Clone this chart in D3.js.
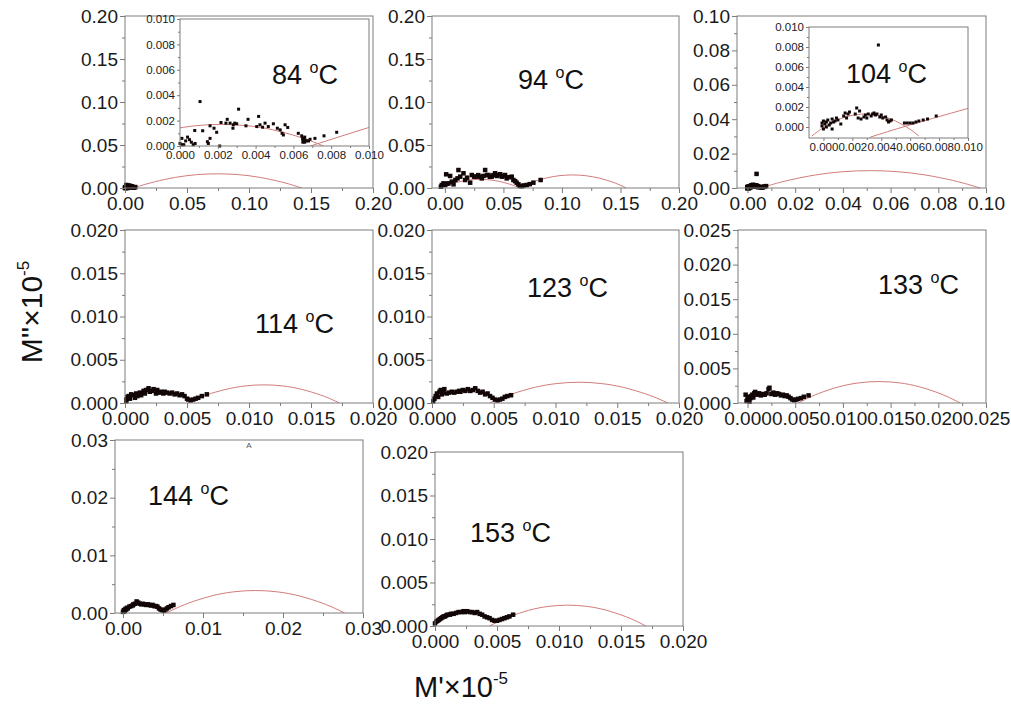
<!DOCTYPE html>
<html><head><meta charset="utf-8">
<script src="https://cdn.jsdelivr.net/npm/d3@7"></script>
<style>
html,body{margin:0;padding:0;background:#fff;}
svg{display:block;}
</style></head><body>
<svg id="c" width="1011" height="704"></svg>
<script>
// ---------- data (M', M'' ×10^-5) ----------
const temps = ["84","94","104","114","123","133","144","153"];

const d84 = [[0.0000,0.0002],[0.0001,0.0006],[0.0003,0.0004],[0.0004,0.0007],[0.0005,0.0005],[0.0006,0.0003],[0.0007,0.0001],[0.0001,0.0001],[0.0002,0.0001],[0.0008,0.0002],
[0.00078,0.00122],[0.0012,0.0012],[0.00106,0.0035],[0.00145,0.00034],[0.0015,0.0002],[0.00159,0.0006],[0.00159,0.00159],[0.0018,0.0014],[0.00194,0.00108],[0.0021,0.0000],
[0.00217,0.00185],[0.00243,0.0018],[0.0025,0.0021],[0.00265,0.0018],[0.0028,0.0014],[0.00282,0.00167],[0.0029,0.0018],[0.003,0.00175],[0.0031,0.0029],
[0.00349,0.00159],[0.0036,0.0021],[0.00406,0.00153],[0.00416,0.00233],[0.00423,0.00167],[0.00437,0.00148],[0.0045,0.0018],[0.00467,0.00153],[0.00494,0.00175],
[0.00515,0.0014],[0.0053,0.00127],[0.0054,0.001],[0.00547,0.00087],[0.00556,0.00167],[0.0057,0.00146],
[0.00626,0.001],[0.00644,0.0008],[0.00649,0.0006],[0.0065,0.0003],[0.0066,0.0005],[0.0066,0.0007],[0.0067,0.0004],[0.0065,0.0005],[0.0066,0.0003],[0.0068,0.0004],[0.00688,0.00053],[0.00714,0.0006],[0.00762,0.0008],[0.00829,0.00108]];

const d94 = [[-0.0034,0.0015],[-0.0026,0.0035],[-0.0012,0.0054],[0.0003,0.0035],[0.0011,0.0159],[0.0020,0.0050],[0.0031,0.0054],[0.0045,0.0140],[0.0059,0.0074],[0.0074,0.0043],[0.0090,0.0093],[0.0108,0.0112],[0.0116,0.0209],[0.0131,0.0132],[0.0159,0.0171],[0.0173,0.0093],[0.0190,0.0120],[0.0216,0.0062],[0.0230,0.0151],[0.0250,0.0132],[0.0267,0.0132],[0.0285,0.0150],[0.0301,0.0132],[0.0315,0.0112],[0.0330,0.0140],[0.0344,0.0209],[0.0360,0.0150],[0.0372,0.0151],[0.0385,0.0130],[0.0400,0.0132],[0.0415,0.0150],[0.0429,0.0171],[0.0445,0.0140],[0.0457,0.0151],[0.0472,0.0160],[0.0486,0.0132],[0.0500,0.0140],[0.0514,0.0151],[0.0528,0.0112],[0.0545,0.0125],[0.0571,0.0132],[0.0585,0.0093],[0.0600,0.0080],[0.0613,0.0062],[0.0628,0.0043],[0.0640,0.0025],[0.0656,0.0020],[0.0675,0.0030],[0.0699,0.0035],[0.0725,0.0045],[0.0756,0.0062],[0.0818,0.0093]];

const d104 = [[-0.0001,0.0001],[-0.0001,0.0004],[0.0000,0.0006],[0.0000,-0.0002],[0.0001,0.0003],[0.0002,0.0000],[0.0002,0.0005],[0.0003,0.0007],[0.0004,0.0002],[0.0005,0.0004],[0.0006,-0.0002],[0.0006,0.0008],[0.0007,0.0005],[0.0008,0.0006],[0.0009,0.0009],[0.0010,0.0007],[0.0012,0.0003],[0.0014,0.0011],[0.0015,0.0014],[0.0016,0.0009],[0.0017,0.0013],[0.0018,0.0015],[0.0022,0.0013],[0.0023,0.0019],[0.0024,0.0009],[0.0025,0.0016],[0.0026,0.0008],[0.0028,0.0010],[0.0029,0.0012],[0.0030,0.0009],[0.0031,0.0013],[0.0033,0.0011],[0.0034,0.0013],[0.0035,0.0014],[0.0036,0.0012],[0.0037,0.0013],[0.0038,0.0082],[0.0039,0.0010],[0.0040,0.0012],[0.0041,0.0009],[0.0043,0.0010],[0.0044,0.0007],[0.0045,0.0005],[0.0046,0.0006],[0.0047,0.0007],[0.0056,0.0004],[0.0058,0.0004],[0.0060,0.0004],[0.0062,0.0004],[0.0064,0.0005],[0.0066,0.0006],[0.0069,0.0007],[0.0072,0.0008],[0.0078,0.0011]];

const d114 = [[0.0001,0.0004],[0.0001,0.0002],[0.0002,0.0007],[0.0003,0.0008],[0.0004,0.0005],[0.0005,0.0010],[0.0007,0.0009],[0.0008,0.0006],[0.0009,0.0011],[0.0010,0.0008],[0.0012,0.0012],[0.0013,0.0009],[0.0015,0.0014],[0.0016,0.0011],[0.0017,0.0015],[0.0019,0.0017],[0.0020,0.0013],[0.0022,0.0014],[0.0023,0.0016],[0.0025,0.0011],[0.0026,0.0015],[0.0028,0.0012],[0.0029,0.0013],[0.0031,0.0011],[0.0032,0.0013],[0.0034,0.0012],[0.0036,0.0011],[0.0038,0.0012],[0.0040,0.0010],[0.0042,0.0011],[0.0044,0.0009],[0.0046,0.0010],[0.0048,0.0008],[0.0050,0.0005],[0.0051,0.0004],[0.0053,0.0003],[0.0055,0.0004],[0.0057,0.0005],[0.0059,0.0006],[0.0062,0.0008],[0.0066,0.0010]];

const d123 = [[0.0001,0.0002],[0.0002,0.0005],[0.0003,0.0008],[0.0004,0.0011],[0.0005,0.0007],[0.0006,0.0013],[0.0007,0.0015],[0.0008,0.0010],[0.0009,0.0012],[0.0010,0.0016],[0.0012,0.0011],[0.0014,0.0012],[0.0016,0.0013],[0.0018,0.0012],[0.0020,0.0013],[0.0022,0.0014],[0.0023,0.0013],[0.0025,0.0015],[0.0027,0.0014],[0.0029,0.0016],[0.0031,0.0014],[0.0033,0.0015],[0.0035,0.0017],[0.0037,0.0014],[0.0039,0.0012],[0.0041,0.0013],[0.0043,0.0010],[0.0045,0.0011],[0.0047,0.0008],[0.0049,0.0006],[0.0051,0.0004],[0.0053,0.0003],[0.0055,0.0004],[0.0057,0.0005],[0.0059,0.0007],[0.0061,0.0008],[0.0064,0.0009]];

const d133 = [[-0.0002,0.0012],[-0.0001,0.0003],[0.0000,0.0006],[0.0001,0.0009],[0.0002,0.0002],[0.0003,0.0007],[0.0004,0.0010],[0.0005,0.0012],[0.0006,0.0008],[0.0007,0.0014],[0.0008,0.0016],[0.0010,0.0012],[0.0012,0.0014],[0.0014,0.0011],[0.0016,0.0013],[0.0018,0.0012],[0.0020,0.0014],[0.0022,0.0020],[0.0023,0.0022],[0.0025,0.0013],[0.0027,0.0015],[0.0029,0.0012],[0.0031,0.0014],[0.0033,0.0013],[0.0035,0.0011],[0.0037,0.0012],[0.0039,0.0010],[0.0041,0.0011],[0.0043,0.0009],[0.0045,0.0007],[0.0047,0.0005],[0.0049,0.0004],[0.0051,0.0005],[0.0053,0.0006],[0.0056,0.0007],[0.0059,0.0009],[0.0064,0.0011]];

const d144 = [[0.0000,0.0002],[0.0001,0.0005],[0.0002,0.0003],[0.0003,0.0007],[0.0004,0.0006],[0.0005,0.0009],[0.0006,0.0008],[0.0008,0.0011],[0.0010,0.0012],[0.0012,0.0013],[0.0013,0.0015],[0.0015,0.0016],[0.0017,0.0020],[0.0019,0.0018],[0.0021,0.0016],[0.0023,0.0015],[0.0025,0.0016],[0.0027,0.0015],[0.0029,0.0014],[0.0031,0.0015],[0.0033,0.0014],[0.0035,0.0013],[0.0037,0.0014],[0.0039,0.0012],[0.0041,0.0012],[0.0043,0.0011],[0.0045,0.0008],[0.0047,0.0006],[0.0049,0.0005],[0.0051,0.0004],[0.0053,0.0006],[0.0055,0.0008],[0.0057,0.0010],[0.0060,0.0012],[0.0063,0.0014]];

const d153 = [[0.0000,0.0003],[0.0001,0.0005],[0.0002,0.0006],[0.0003,0.0007],[0.0004,0.0008],[0.0005,0.0009],[0.0006,0.0010],[0.0007,0.0011],[0.0008,0.0011],[0.0009,0.0012],[0.0010,0.0013],[0.0012,0.0013],[0.0013,0.0014],[0.0015,0.0014],[0.0017,0.0015],[0.0019,0.0016],[0.0021,0.0016],[0.0023,0.0017],[0.0024,0.0016],[0.0026,0.0017],[0.0028,0.0016],[0.0030,0.0016],[0.0032,0.0015],[0.0034,0.0016],[0.0036,0.0014],[0.0038,0.0013],[0.0040,0.0011],[0.0042,0.0010],[0.0044,0.0009],[0.0046,0.0007],[0.0048,0.0006],[0.0050,0.0006],[0.0052,0.0007],[0.0054,0.0008],[0.0056,0.0009],[0.0058,0.0010],[0.0060,0.0011],[0.0063,0.0013]];

// fitted arcs
const arc84Small = [[-0.0032,0],[-0.00266,0.00032],[-0.00185,0.00074],[-0.0005,0.00128],[0.00085,0.0016],[0.0022,0.0017],[0.00355,0.0016],[0.0049,0.00128],[0.00625,0.00074],[0.00706,0.00032],[0.0076,0]];
const arc84Big = [[0.0069,0],[0.0103,0.0016],[0.0137,0.0031],[0.0239,0.0072],[0.0408,0.0124],[0.0578,0.0155],[0.0747,0.0165],[0.0917,0.0155],[0.1086,0.0124],[0.1256,0.0072],[0.1357,0.0031],[0.1425,0]];
const arc94Small = [[-0.004,0],[-0.0006,0.0019],[0.0045,0.0044],[0.013,0.0075],[0.0215,0.0094],[0.030,0.010],[0.0385,0.0094],[0.047,0.0075],[0.0555,0.0044],[0.0606,0.0019],[0.064,0]];
const arc94Big = [[0.063,0],[0.0676,0.0029],[0.0745,0.0067],[0.086,0.0114],[0.0975,0.01425],[0.109,0.0152],[0.1205,0.01425],[0.132,0.0114],[0.1435,0.0067],[0.1504,0.0029],[0.155,0]];
const arc104Small = [[-0.0008,-0.0009],[-0.00043,-0.00048],[0.00013,0.00006],[0.00105,0.00075],[0.00198,0.00116],[0.0029,0.0013],[0.00383,0.00116],[0.00475,0.00075],[0.00568,0.00006],[0.00623,-0.00048],[0.0066,-0.0009]];
const arc104Big = [[0.0032,-0.00104],[0.0055,0],[0.0101,0.0019],[0.017,0.00442],[0.0285,0.00758],[0.04,0.00947],[0.0515,0.0101],[0.063,0.00947],[0.0745,0.00758],[0.086,0.00442],[0.0929,0.0019],[0.0975,0],[0.0998,-0.00104]];
const arc114 = [[0.0051,0],[0.00561,0.0004],[0.00653,0.00092],[0.00815,0.00158],[0.00968,0.00197],[0.0112,0.0021],[0.01273,0.00197],[0.01425,0.00158],[0.01578,0.00092],[0.01669,0.0004],[0.0173,0]];
const arc123 = [[0.0047,0],[0.00542,0.00046],[0.0065,0.00105],[0.0083,0.0018],[0.0101,0.00225],[0.0119,0.0024],[0.0137,0.00225],[0.0155,0.0018],[0.0173,0.00105],[0.01838,0.00046],[0.0191,0]];
const arc133 = [[0.0053,0],[0.00615,0.00059],[0.00743,0.00136],[0.00955,0.00233],[0.01168,0.00291],[0.0138,0.0031],[0.01593,0.00291],[0.01805,0.00233],[0.02018,0.00136],[0.02145,0.00059],[0.0223,0]];
const arc144 = [[0.0054,0],[0.00652,0.00074],[0.00819,0.00171],[0.01098,0.00293],[0.01376,0.00366],[0.01655,0.0039],[0.01934,0.00366],[0.02213,0.00293],[0.02491,0.00171],[0.02659,0.00074],[0.0277,0]];
const arc153 = [[0.0044,0],[0.00503,0.00046],[0.00598,0.00105],[0.00755,0.0018],[0.00913,0.00225],[0.0107,0.0024],[0.01228,0.00225],[0.01385,0.0018],[0.01543,0.00105],[0.01637,0.00046],[0.017,0]];

// tick values
const ticks020 = [0,0.05,0.10,0.15,0.20], minor020 = [0.025,0.075,0.125,0.175];
const ticks010 = [0,0.02,0.04,0.06,0.08,0.10], minor010 = [0.01,0.03,0.05,0.07,0.09];
const ticks002 = [0,0.005,0.010,0.015,0.020], minor002 = [0.0025,0.0075,0.0125,0.0175];
const ticks0025 = [0,0.005,0.010,0.015,0.020,0.025], minor0025 = [0.0025,0.0075,0.0125,0.0175,0.0225];
const ticks003 = [0,0.01,0.02,0.03], minor003 = [0.005,0.015,0.025];
const ticksIn = [0,0.002,0.004,0.006,0.008,0.010], minorIn = [0.001,0.003,0.005,0.007,0.009];

// ---------- drawing ----------
const FONT = "'Liberation Sans', Arial, Helvetica, sans-serif";
const FRAME = "#7c7c7c";
const svg = d3.select("#c");
let clipN = 0;

function drawPanel(cfg) {
  const [l, t, r, b] = cfg.box;
  const x = d3.scaleLinear().domain(cfg.xd).range([l, r]);
  const y = d3.scaleLinear().domain(cfg.yd).range([b, t]);
  const g = svg.append("g");
  const inset = !!cfg.inset;
  const fs = inset ? 11.5 : 19;
  const tk = inset ? 3 : 5, mk = inset ? 2 : 3;
  if (inset) g.append("rect").attr("x", l).attr("y", t).attr("width", r - l).attr("height", b - t).attr("fill", "#fff");
  const cid = "clip" + (clipN++);
  g.append("clipPath").attr("id", cid).append("rect").attr("x", l).attr("y", t).attr("width", r - l).attr("height", b - t);

  const line = d3.line().x(d => x(d[0])).y(d => y(d[1])).curve(d3.curveNatural);
  cfg.arcs.forEach(a => {
    g.append("path").attr("clip-path", `url(#${cid})`).attr("d", line(a))
      .attr("fill", "none").attr("stroke", "#d27c7c").attr("stroke-width", 1);
  });

  const s = inset ? 3 : 4.5;
  g.append("g").selectAll("rect").data(cfg.data).join("rect")
    .attr("x", d => x(d[0]) - s / 2).attr("y", d => y(d[1]) - s / 2)
    .attr("width", s).attr("height", s).attr("fill", "#120606");

  const fmt = d3.format(cfg.fmtX);
  const fmtY = d3.format(cfg.fmtY);
  const style = sel => {
    sel.select(".domain").remove();
    sel.selectAll("line").attr("stroke", FRAME);
    sel.selectAll("text").attr("font-size", fs).attr("font-family", FONT).attr("fill", "#1a1a1a");
  };
  g.append("g").attr("transform", `translate(0,${b})`)
    .call(d3.axisBottom(x).tickValues(cfg.xt).tickFormat(fmt).tickSize(tk).tickPadding(inset ? 2 : 4)).call(style);
  g.append("g").attr("transform", `translate(0,${b})`)
    .call(d3.axisBottom(x).tickValues(cfg.xm).tickFormat("").tickSize(mk)).call(style);
  g.append("g").attr("transform", `translate(${l},0)`)
    .call(d3.axisLeft(y).tickValues(cfg.yt).tickFormat(fmtY).tickSize(tk).tickPadding(2)).call(style);
  g.append("g").attr("transform", `translate(${l},0)`)
    .call(d3.axisLeft(y).tickValues(cfg.ym).tickFormat("").tickSize(mk)).call(style);

  g.append("rect").attr("x", l).attr("y", t).attr("width", r - l).attr("height", b - t)
    .attr("fill", "none").attr("stroke", FRAME).attr("stroke-width", 1);

  if (cfg.label) {
    const tx = g.append("text").attr("x", cfg.label[0]).attr("y", cfg.label[1])
      .attr("font-family", FONT).attr("font-size", 27).attr("fill", "#111");
    tx.append("tspan").text(cfg.temp + " ");
    tx.append("tspan").attr("font-size", 16).attr("dy", -11).text("o");
    tx.append("tspan").attr("dy", 11).text("C");
  }
}

const panels = [
  {temp: temps[0], box: [125, 16, 373, 188], xd: [0, 0.2], yd: [0, 0.2], xt: ticks020, xm: minor020, yt: ticks020, ym: minor020, fmtX: ".2f", fmtY: ".2f", data: d84, arcs: [arc84Small, arc84Big]},
  {inset: true, temp: temps[0], box: [180, 19, 369, 146], xd: [0, 0.01], yd: [0, 0.01], xt: ticksIn, xm: minorIn, yt: ticksIn, ym: minorIn, fmtX: ".3f", fmtY: ".3f", data: d84, arcs: [arc84Small, arc84Big], label: [272, 84]},
  {temp: temps[1], box: [432, 16, 679, 188], xd: [-0.011, 0.2], yd: [0, 0.2], xt: ticks020, xm: minor020, yt: ticks020, ym: minor020, fmtX: ".2f", fmtY: ".2f", data: d94, arcs: [arc94Small, arc94Big], label: [518, 89]},
  {temp: temps[2], box: [737, 16, 986, 188], xd: [-0.0044, 0.1], yd: [0, 0.1], xt: ticks010, xm: minor010, yt: ticks010, ym: minor010, fmtX: ".2f", fmtY: ".2f", data: d104, arcs: [arc104Small, arc104Big]},
  {inset: true, temp: temps[2], box: [809, 27, 968, 138], xd: [-0.001, 0.01], yd: [-0.0011, 0.01], xt: ticksIn, xm: minorIn, yt: ticksIn, ym: minorIn, fmtX: ".3f", fmtY: ".3f", data: d104, arcs: [arc104Small, arc104Big], label: [846, 83]},
  {temp: temps[3], box: [125, 230, 373, 403], xd: [0, 0.02], yd: [0, 0.02], xt: ticks002, xm: minor002, yt: ticks002, ym: minor002, fmtX: ".3f", fmtY: ".3f", data: d114, arcs: [arc114], label: [255, 333]},
  {temp: temps[4], box: [432, 230, 679, 403], xd: [0, 0.02], yd: [0, 0.02], xt: ticks002, xm: minor002, yt: ticks002, ym: minor002, fmtX: ".3f", fmtY: ".3f", data: d123, arcs: [arc123], label: [527, 297]},
  {temp: temps[5], box: [738, 230, 986, 403], xd: [-0.001, 0.025], yd: [0, 0.025], xt: ticks0025, xm: minor0025, yt: ticks0025, ym: minor0025, fmtX: ".3f", fmtY: ".3f", data: d133, arcs: [arc133], label: [878, 294]},
  {temp: temps[6], box: [115, 440, 363, 613], xd: [-0.001, 0.03], yd: [0, 0.03], xt: ticks003, xm: minor003, yt: ticks003, ym: minor003, fmtX: ".2f", fmtY: ".2f", data: d144, arcs: [arc144], label: [148, 505]},
  {temp: temps[7], box: [435, 452, 683, 626], xd: [0, 0.02], yd: [0, 0.02], xt: ticks002, xm: minor002, yt: ticks002, ym: minor002, fmtX: ".3f", fmtY: ".3f", data: d153, arcs: [arc153], label: [470, 542]}
];
panels.forEach(drawPanel);

// small "A" marker in the 144 °C panel
svg.append("text").attr("x", 249).attr("y", 448).attr("text-anchor", "middle")
  .attr("font-family", FONT).attr("font-size", 8).attr("fill", "#555").text("A");

// axis titles
const yt = svg.append("text").attr("transform", "translate(42,312) rotate(-90)")
  .attr("text-anchor", "middle").attr("font-family", FONT).attr("font-size", 30).attr("fill", "#111");
yt.append("tspan").text("M''\u00d710");
yt.append("tspan").attr("font-size", 17).attr("dy", -13).text("-5");

const xt = svg.append("text").attr("x", 414).attr("y", 697)
  .attr("font-family", FONT).attr("font-size", 29).attr("fill", "#111");
xt.append("tspan").text("M'\u00d710");
xt.append("tspan").attr("font-size", 17).attr("dy", -13).text("-5");
</script></body></html>
